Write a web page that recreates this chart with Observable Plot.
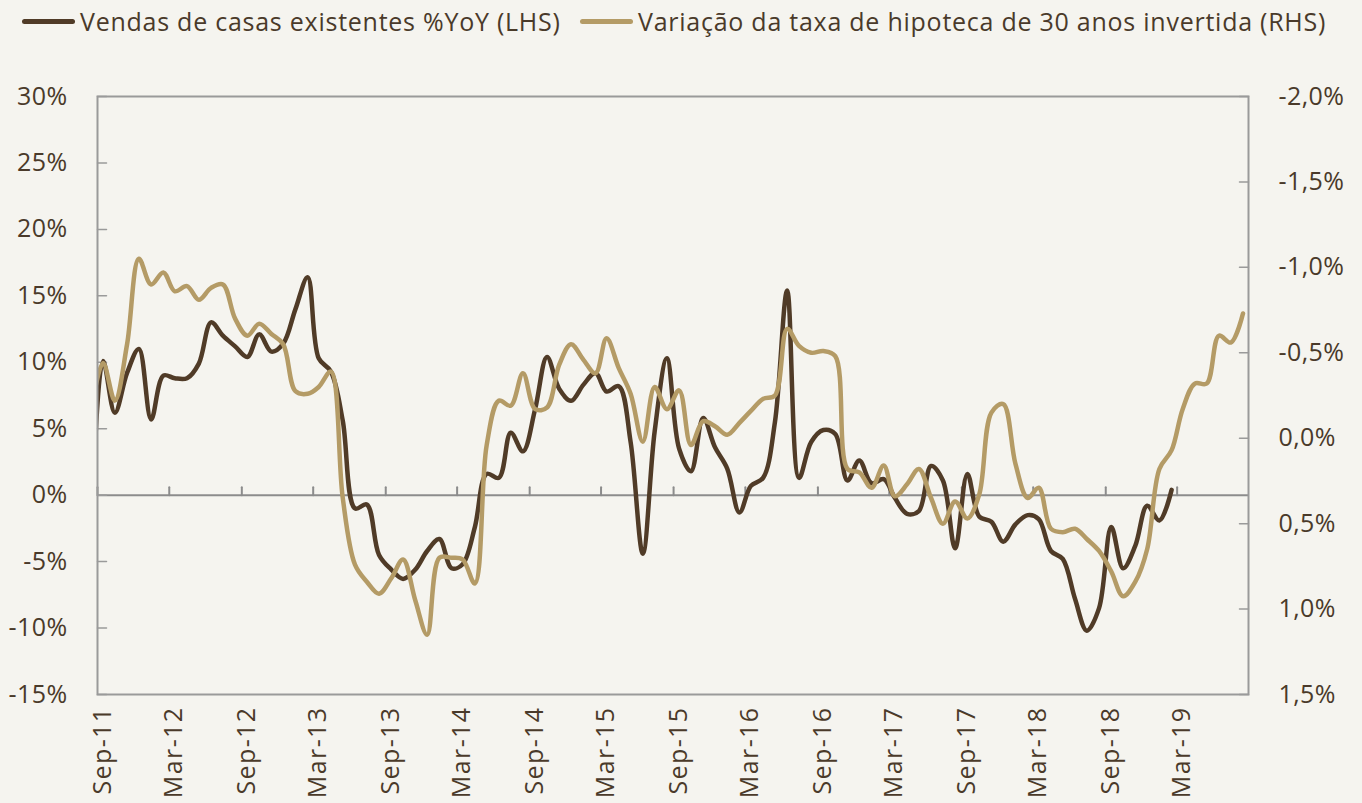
<!DOCTYPE html>
<html>
<head>
<meta charset="utf-8">
<script src="https://cdn.jsdelivr.net/npm/d3@7"></script>
<script src="https://cdn.jsdelivr.net/npm/@observablehq/plot@0.6"></script>
<style>
  html, body { margin: 0; padding: 0; background: #f5f4ef; }
  body { width: 1362px; height: 803px; overflow: hidden; font-family: "Open Sans", sans-serif; color: #4a3a2a; }
  #legend { position: relative; height: 46px; }
  .item { position: absolute; top: 0; height: 42px; display: flex; align-items: center; font-size: 25px; letter-spacing: 0.75px; white-space: nowrap; }
  .sw { width: 53px; height: 5px; border-radius: 3px; margin-right: 5px; }
  #chart g[aria-label="x-axis tick label"] text { letter-spacing: 1.4px; }
  #chart g[aria-label="y-axis tick label"] text { letter-spacing: 0.4px; }
</style>
</head>
<body>
<div id="legend"></div>
<div id="chart"></div>
<script>
// ---- Data (monthly, mid-month, first point Aug-2011) ----
const seriesNames = ["Vendas de casas existentes %YoY (LHS)", "Variação da taxa de hipoteca de 30 anos invertida (RHS)"];
const firstMonth = [2011, 7]; // Aug 2011 (UTC month index)

// Existing home sales, % YoY (left axis)
const salesYoY = [
  -4.0, 10.1, 6.2, 9.2, 11.0, 5.7, 9.0, 8.8, 8.8, 9.9,
  13.0, 12.0, 11.2, 10.4, 12.1, 10.8, 11.4, 14.0, 16.4, 10.3,
  9.3, 5.6, -1.0, -0.7, -4.5, -5.6, -6.3, -5.6, -4.2, -3.3,
  -5.5, -5.2, -2.4, 1.6, 1.3, 4.7, 3.3, 6.5, 10.4, 8.0,
  7.1, 8.3, 9.2, 7.8, 8.2, 4.0, -4.4, 4.8, 10.3, 3.5,
  1.8, 5.8, 3.6, 2.0, -1.3, 0.7, 1.3, 5.5, 15.4, 1.3,
  4.0, 4.9, 4.6, 1.1, 2.6, 0.9, 1.2, -0.2, -1.4, -1.2,
  2.2, 1.1, -4.0, 1.6, -1.6, -2.0, -3.5, -2.2, -1.5, -1.8,
  -4.2, -4.8, -7.8, -10.2, -8.5, -2.4, -5.5, -3.8, -0.8, -1.9,
  0.4
];

// 30-year mortgage rate change, percentage points (right axis, inverted)
const mortgageChg = [
  -0.15, -0.44, -0.22, -0.55, -1.05, -0.90, -0.97, -0.86, -0.89, -0.81,
  -0.88, -0.90, -0.70, -0.60, -0.67, -0.61, -0.55, -0.275, -0.26, -0.30,
  -0.39, 0.35, 0.74, 0.84, 0.91, 0.82, 0.71, 0.95, 1.15, 0.70,
  0.70, 0.71, 0.85, 0.04, -0.22, -0.19, -0.38, -0.17, -0.18, -0.43,
  -0.55, -0.46, -0.38, -0.585, -0.41, -0.26, 0.02, -0.30, -0.17, -0.28,
  0.04, -0.10, -0.07, -0.02, -0.09, -0.16, -0.23, -0.25, -0.64, -0.54,
  -0.50, -0.51, -0.48, 0.18, 0.20, 0.29, 0.16, 0.34, 0.27, 0.18,
  0.35, 0.50, 0.37, 0.47, 0.33, -0.15, -0.20, 0.15, 0.35, 0.29,
  0.53, 0.55, 0.53, 0.59, 0.66, 0.78, 0.925, 0.84, 0.65, 0.18,
  0.07, -0.17, -0.32, -0.32, -0.60, -0.56, -0.73
];

const leftTicks = [-15, -10, -5, 0, 5, 10, 15, 20, 25, 30];
const rightTicks = [-2.0, -1.5, -1.0, -0.5, 0.0, 0.5, 1.0, 1.5];
const xTickLabels = ["Sep-11","Mar-12","Sep-12","Mar-13","Sep-13","Mar-14","Sep-14","Mar-15",
                     "Sep-15","Mar-16","Sep-16","Mar-17","Sep-17","Mar-18","Sep-18","Mar-19"];

// ---- Styles ----
const darkColor = "#503b27";
const goldColor = "#b49b66";
const textColor = "#4a3a2a";
const axisGray = "#9a9a9a";

// ---- Scales helpers ----
const leftDomain = [-15, 30];
const rightDomain = [1.5, -2.0]; // bottom -> top
const toLeft = r => leftDomain[0] + (r - rightDomain[0]) * (leftDomain[1] - leftDomain[0]) / (rightDomain[1] - rightDomain[0]);
const fromLeft = v => rightDomain[0] + (v - leftDomain[0]) * (rightDomain[1] - rightDomain[0]) / (leftDomain[1] - leftDomain[0]);
const fmtRight = r => { const x = Math.round(r * 10) / 10; return (Math.abs(x) < 1e-9 ? 0 : x).toFixed(1).replace(".", ",") + "%"; };

const monthDate = i => new Date(Date.UTC(firstMonth[0], firstMonth[1] + i, 15));
const sales = salesYoY.map((v, i) => ({date: monthDate(i), v}));
const mort = mortgageChg.map((r, i) => ({date: monthDate(i), v: toLeft(r)}));
const parseTick = d3.utcParse("%b-%y");
const xTicks = xTickLabels.map(parseTick);
const xDomain = [new Date(Date.UTC(2011, 8, 1)), new Date(Date.UTC(2019, 7, 29))];

// tick line shape for vector marks
const tickShape = { draw(ctx, l) { ctx.moveTo(0, 0); ctx.lineTo(0, -l); } };

// ---- Legend ----
const legend = document.getElementById("legend");
const legendPos = [22, 580];
seriesNames.forEach((name, i) => {
  const it = document.createElement("div");
  it.className = "item";
  it.style.left = legendPos[i] + "px";
  const sw = document.createElement("div");
  sw.className = "sw";
  sw.style.background = i === 0 ? darkColor : goldColor;
  const tx = document.createElement("span");
  tx.textContent = name;
  it.appendChild(sw); it.appendChild(tx);
  legend.appendChild(it);
});

// ---- Chart ----
const chart = Plot.plot({
  width: 1362,
  height: 757,
  marginLeft: 97,
  marginRight: 114,
  marginTop: 50,
  marginBottom: 109,
  style: {background: "transparent", fontFamily: "'Open Sans', sans-serif", fontSize: "25px", color: textColor, overflow: "visible"},
  x: {type: "utc", domain: xDomain, label: null},
  y: {domain: leftDomain, label: null},
  marks: [
    Plot.ruleY([0], {stroke: "#8c8c8c", strokeWidth: 2}),
    Plot.vector(xTicks, {x: d => d, y: d => 0, length: 8, rotate: 0, anchor: "start", shape: tickShape, stroke: "#8c8c8c", strokeWidth: 2}),
    Plot.vector(leftTicks, {y: d => d, frameAnchor: "left", length: 9, rotate: 90, anchor: "start", shape: tickShape, stroke: axisGray, strokeWidth: 1.5}),
    Plot.vector(rightTicks.map(toLeft), {y: d => d, frameAnchor: "right", length: 9, rotate: -90, anchor: "start", shape: tickShape, stroke: axisGray, strokeWidth: 1.5}),
    Plot.axisY(leftTicks, {anchor: "left", tickSize: 0, tickPadding: 30, tickFormat: d => d + "%", label: null, fontSize: 25}),
    Plot.axisY(rightTicks.map(toLeft), {anchor: "right", tickSize: 0, tickPadding: 30, tickFormat: d => fmtRight(fromLeft(d)), label: null, fontSize: 25}),
    Plot.axisX(xTicks, {anchor: "bottom", tickSize: 0, tickPadding: 12, tickRotate: -90, tickFormat: d3.utcFormat("%b-%y"), label: null, fontSize: 25, dx: 5}),
    Plot.lineY(sales, {x: "date", y: "v", stroke: darkColor, strokeWidth: 4.5, curve: "catmull-rom", clip: true, strokeLinecap: "round", strokeLinejoin: "round"}),
    Plot.lineY(mort, {x: "date", y: "v", stroke: goldColor, strokeWidth: 4.5, curve: "catmull-rom", clip: true, strokeLinecap: "round", strokeLinejoin: "round"}),
    Plot.frame({stroke: axisGray, strokeWidth: 2})
  ]
});
document.getElementById("chart").appendChild(chart);
</script>
</body>
</html>
